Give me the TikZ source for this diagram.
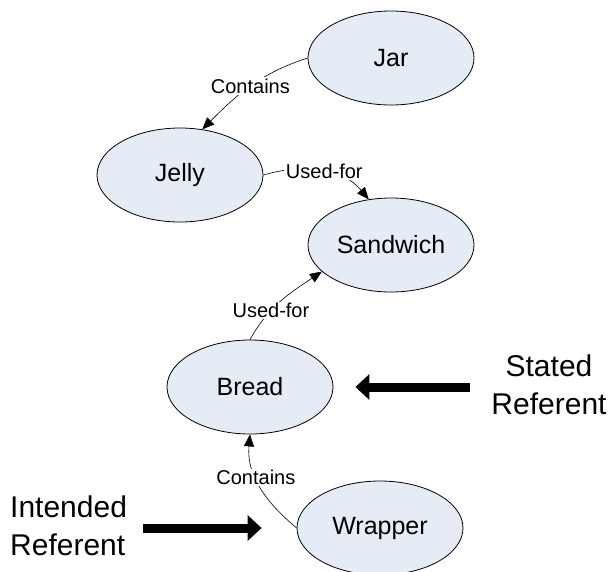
\documentclass[tikz,border=0pt]{standalone}
\usepackage{fontspec}
\setmainfont{Liberation Sans}
\usetikzlibrary{shapes.geometric,arrows.meta}

\definecolor{conceptfill}{RGB}{230,236,246}

\tikzset{
  concept/.style={draw, ellipse, fill=conceptfill, line width=0.8pt,
    minimum width=166pt, minimum height=94pt, inner sep=0pt,
    font=\fontsize{25}{30}\selectfont},
  rel/.style={draw, line width=0.6pt, -{Triangle[length=12pt,width=10pt]}},
  lbl/.style={fill=white, inner sep=1.5pt, font=\fontsize{20}{24}\selectfont},
  pointer/.style={line width=9pt, -{Triangle[length=14pt,width=25pt]}},
  bigtext/.style={inner sep=0pt, font=\fontsize{30}{38}\selectfont}
}

\begin{document}
\begin{tikzpicture}[x=1pt, y=-1pt]
    \useasboundingbox (0, 0) rectangle (612, 571);

    % Concepts
    \node[concept] (jar) at (391, 58) {Jar};
    \node[concept] (jelly) at (180, 175) {Jelly};
    \node[concept] (sandwich) at (391, 245) {Sandwich};
    \node[concept] (bread) at (250, 387) {Bread};
    \node[concept] (wrapper) at (380, 528) {Wrapper};

    % Relations
    \draw[rel] (jar.west) to[out=198, in=45] node[lbl, pos=0.5] {Contains} (jelly.64);
    \draw[rel] (jelly.east) to[out=16, in=130] node[lbl, pos=0.53] {Used-for} (sandwich.116);
    \draw[rel] (bread.north) to[out=61, in=214] node[lbl, pos=0.35] {Used-for} (sandwich.201);
    \draw[rel] (wrapper.west) to[out=140, in=265] node[lbl, pos=0.6] {Contains} (bread.south);

    % Referents
    \node[bigtext, align=center] (stated) at (549, 385) {Stated\\Referent};
    \node[bigtext, align=left, anchor=west] (intended) at (10, 525.5) {Intended\\Referent};

    \draw[pointer] ([xshift=-21pt]stated.west |- bread.east) -- ([xshift=22pt]bread.east);
    \draw[pointer] ([xshift=16pt]intended.east |- wrapper.west) -- ([xshift=-35pt]wrapper.west);
  \end{tikzpicture}
\end{document}
